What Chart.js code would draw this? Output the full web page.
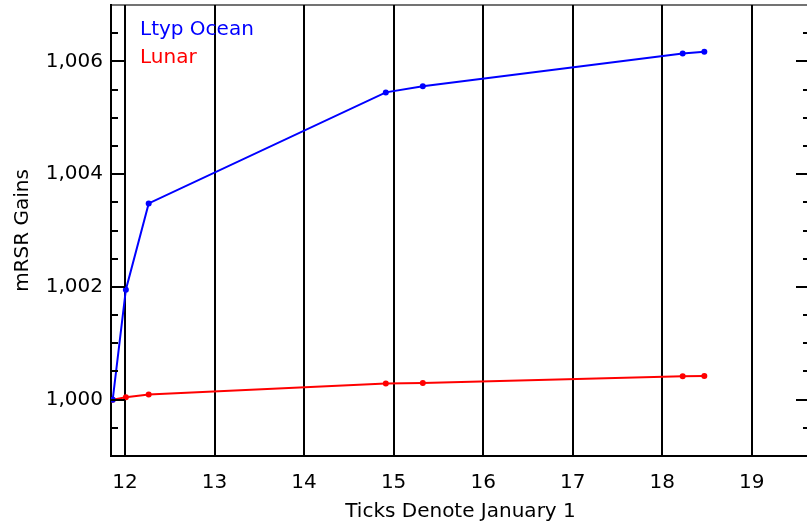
<!DOCTYPE html>
<html>
<head>
<meta charset="utf-8">
<script src="https://cdn.jsdelivr.net/npm/chart.js@4/dist/chart.umd.min.js"></script>
<style>
  html, body { margin: 0; padding: 0; background: #fff; overflow: hidden; }
  #wrap { width: 820px; height: 524px; position: relative; }
</style>
</head>
<body>
<div id="wrap"><canvas id="chart"></canvas></div>
<script>
// years since epoch (ticks denote January 1)
const years = [11.863, 12.01, 12.265, 14.913, 15.326, 18.228, 18.47];
const oceanGains = [1.0000, 1.00195, 1.00348, 1.00545, 1.00556, 1.00614, 1.00617];
const lunarGains = [1.0000, 1.000043, 1.000089, 1.000284, 1.000296, 1.000415, 1.00042];
const seriesNames = ["Ltyp Ocean", "Lunar"];
const seriesColors = ["#0000ff", "#ff0000"];

const FONT = "'DejaVu Sans', sans-serif";

function toPoints(xs, ys) {
  return xs.map((x, i) => ({ x: x, y: ys[i] }));
}

function isMajor(v) {
  const k = Math.round(v * 1000);
  return Math.abs(v * 1000 - k) < 1e-6 && k % 2 === 0;
}

// ticks pointing inward on both left and right frames, plus top frame line
const frameTicks = {
  id: "frameTicks",
  afterDraw(chart) {
    const ctx = chart.ctx;
    const area = chart.chartArea;
    const y = chart.scales.y;
    ctx.save();
    ctx.strokeStyle = "#000";
    ctx.lineWidth = 2;
    y.ticks.forEach(t => {
      const py = Math.round(y.getPixelForValue(t.value));
      if (py <= area.top + 2 || py >= area.bottom - 2) return;
      const len = isMajor(t.value) ? 14 : 7;
      ctx.beginPath();
      ctx.moveTo(area.left, py);
      ctx.lineTo(area.left + len, py);
      ctx.moveTo(area.right, py);
      ctx.lineTo(area.right - len, py);
      ctx.stroke();
    });
    ctx.strokeStyle = "rgba(0,0,0,0.55)";
    ctx.beginPath();
    ctx.moveTo(area.left, area.top);
    ctx.lineTo(area.right, area.top);
    ctx.stroke();
    ctx.restore();
  }
};

// series names written inside the plot, in the series colours
const innerLegend = {
  id: "innerLegend",
  afterDraw(chart) {
    const ctx = chart.ctx;
    const area = chart.chartArea;
    ctx.save();
    ctx.font = "20px " + FONT;
    ctx.textAlign = "left";
    ctx.textBaseline = "alphabetic";
    chart.data.datasets.forEach((ds, i) => {
      ctx.fillStyle = ds.borderColor;
      ctx.fillText(ds.label, area.left + 29, area.top + 30 + i * 28);
    });
    ctx.restore();
  }
};

new Chart(document.getElementById("chart"), {
  type: "line",
  data: {
    datasets: seriesNames.map((name, i) => ({
      label: name,
      data: toPoints(years, i === 0 ? oceanGains : lunarGains),
      borderColor: seriesColors[i],
      backgroundColor: seriesColors[i],
      pointBackgroundColor: seriesColors[i],
      pointBorderWidth: 0,
      pointRadius: 3,
      borderWidth: 2,
      tension: 0,
      fill: false
    }))
  },
  options: {
    responsive: true,
    maintainAspectRatio: false,
    animation: false,
    layout: { padding: { top: 5, right: 10, left: 0, bottom: 0 } },
    plugins: {
      legend: { display: false },
      tooltip: { enabled: false }
    },
    scales: {
      x: {
        type: "linear",
        min: 11.844,
        max: 19.65,
        ticks: {
          stepSize: 1,
          includeBounds: false,
          padding: 15,
          color: "#000",
          font: { family: FONT, size: 20 }
        },
        grid: { color: "#000", lineWidth: 2, drawTicks: false },
        border: { display: true, color: "#000", width: 2 },
        title: {
          display: true,
          text: "Ticks Denote January 1",
          color: "#000",
          font: { family: FONT, size: 20 },
          padding: { top: 0, bottom: 0 }
        },
        afterFit(s) { s.height = 68; s.paddingLeft = 0; s.paddingRight = 0; }
      },
      y: {
        type: "linear",
        min: 0.999,
        max: 1.007,
        ticks: {
          stepSize: 0.0005,
          maxTicksLimit: 40,
          autoSkip: false,
          padding: 8,
          color: "#000",
          font: { family: FONT, size: 20 },
          callback: v => isMajor(v) ? (Math.round(v * 1000) / 1000).toFixed(3).replace(".", ",") : ""
        },
        grid: { display: false, drawTicks: false },
        border: { display: true, color: "#000", width: 2 },
        title: {
          display: true,
          text: "mRSR Gains",
          color: "#000",
          font: { family: FONT, size: 20 },
          padding: { top: 11, bottom: 0 }
        },
        afterFit(s) { s.width = 111; s.paddingTop = 0; s.paddingBottom = 0; }
      }
    }
  },
  plugins: [frameTicks, innerLegend]
});
</script>
</body>
</html>
